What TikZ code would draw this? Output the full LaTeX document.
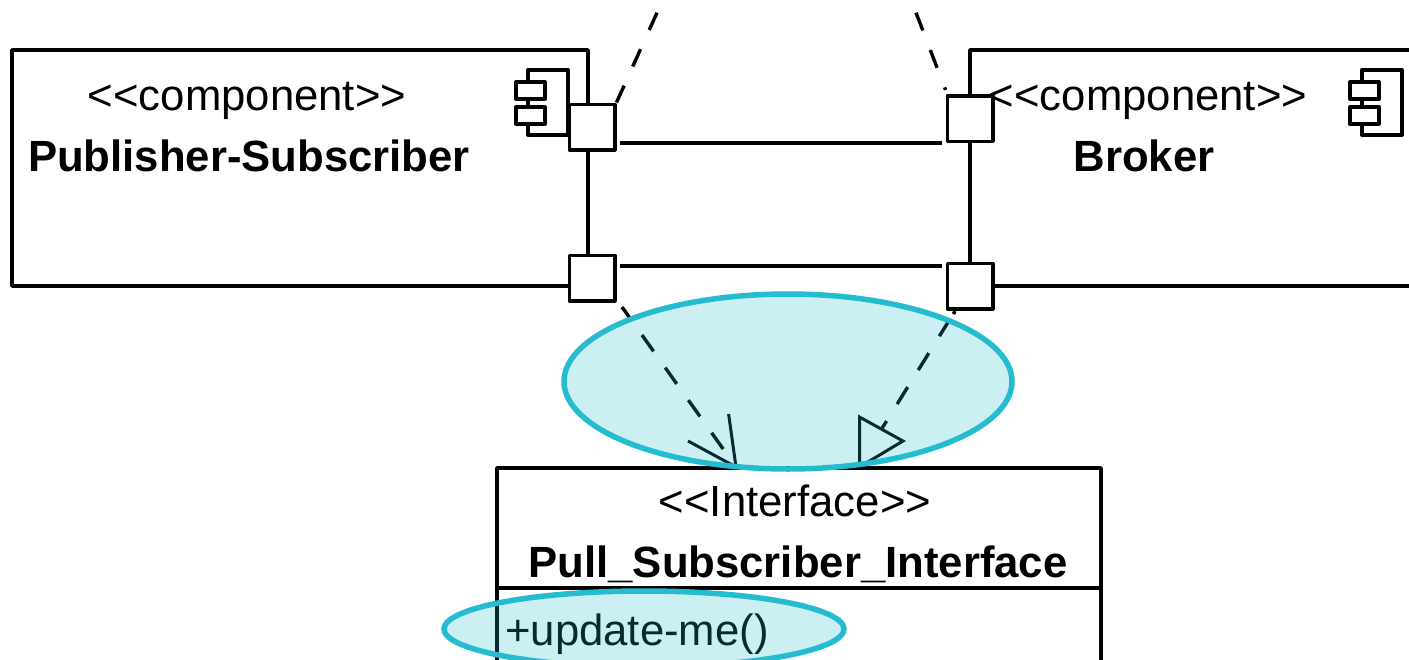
\documentclass[tikz,border=0pt]{standalone}
\usepackage{fontspec}
\setmainfont{Liberation Sans}
\definecolor{tealline}{RGB}{38,188,208}
\tikzset{
  x=1pt,y=-1pt,
  boxline/.style={draw=black,line width=3.5pt,line join=round},
  thinline/.style={draw=black,line width=3.5pt},
  iconline/.style={draw=black,line width=3.3pt,line join=round},
  portbox/.style={draw=black,line width=3.5pt,fill=white,minimum size=45.5pt,inner sep=0pt,rectangle,line join=round},
  dashline/.style={draw=black,line width=3.4pt},
  tipline/.style={draw=black,line width=3pt,line join=miter},
  hl/.style={draw=tealline,line width=5.5pt,fill=tealline,fill opacity=.23,draw opacity=1},
  lbl/.style={font=\fontsize{43.7}{43.7}\selectfont,text=black,inner sep=0pt},
  blbl/.style={font=\fontsize{43.7}{43.7}\selectfont\bfseries,text=black,inner sep=0pt},
}
\newcommand{\compicon}[2]{%
  \draw[iconline] (#1+12,#2+12) -- (#1+12,#2) -- (#1+52,#2) -- (#1+52,#2+65) -- (#1+12,#2+65) -- (#1+12,#2+54);
  \draw[iconline] (#1,#2+12) rectangle (#1+29,#2+29);
  \draw[iconline] (#1,#2+37) rectangle (#1+29,#2+54);
  \draw[iconline] (#1+12,#2+29) -- (#1+12,#2+37);
}
\begin{document}
\begin{tikzpicture}
\useasboundingbox (0,0) rectangle (1409,659);
\fill[white] (0,0) rectangle (1409,659);
% component boxes
\draw[boxline] (12,50) rectangle (588,286);
\draw[boxline] (1420,50) -- (970,50) -- (970,286) -- (1420,286);
\compicon{516}{70}
\compicon{1350}{70}
% labels
\node[lbl] (t1) at (247,101) {<{}<component>{}>};
\node[blbl] (t2) at (249,156) {Publisher-Subscriber};
\node[lbl] (t3) at (1148,101) {<{}<component>{}>};
\node[blbl] (t4) at (1144,156) {Broker};
% ports
\node[portbox] (p1) at (592,127) {};
\node[portbox] (p2) at (970,118.5) {};
\node[portbox] (p3) at (592,278) {};
\node[portbox] (p4) at (970,286) {};
% connectors between ports
\coordinate (a1) at (620,143); \coordinate (a2) at (942,143);
\coordinate (b1) at (620,266); \coordinate (b2) at (942,266);
\draw[thinline] (a1) -- (a2);
\draw[thinline] (b1) -- (b2);
% dashed lines at the top
\coordinate (topL) at (657,12.7);
\coordinate (topR) at (916,12.7);
\coordinate (endR) at (945.6,90);
\draw[dashline,dash pattern=on 19pt off 21pt] (topL) -- (p1.north east);
\draw[dashline,dash pattern=on 19pt off 21pt] (topR) -- (endR);
% interface
\draw[boxline,fill=white] (497,468) rectangle (1101,670);
\draw[boxline] (497,588) -- (1101,588);
\node[lbl] (t5) at (795,501) {<{}<Interface>{}>};
\node[blbl] (t6) at (798,564) {Pull\_Subscriber\_Interface};
\node[lbl,anchor=west] (t7) at (505,634) {+update-me()};
% dashed lines to the interface
\coordinate (openTip) at (736,467);
\coordinate (barbA) at (728.6,414);
\coordinate (barbB) at (688,441);
\coordinate (triA) at (859.5,417);
\coordinate (triB) at (903,441);
\coordinate (triC) at (859.5,467);
\coordinate (triMid) at (881,430);
\coordinate (startL) at (622,307);
\coordinate (startR) at (955,311);
\coordinate (stubR) at (953.5,314);
\draw[dashline,dash pattern=on 20pt off 20pt,dash phase=5.6pt] (startL) -- (openTip);
\draw[tipline] (barbA) -- (openTip) -- (barbB);
\draw[dashline,dash pattern=on 20pt off 20pt,dash phase=30.4pt] (startR) -- (triMid);
\draw[dashline] (startR) -- (stubR);
\draw[tipline] (triC) -- (triA) -- (triB) -- cycle;
% highlight ellipses
\draw[hl] (788,381.5) ellipse (224 and 87.5);
\draw[hl] (644,629) ellipse (200 and 38);
\end{tikzpicture}
\end{document}
